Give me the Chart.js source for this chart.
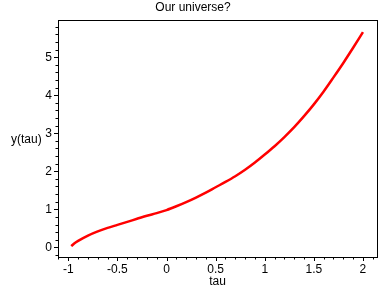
<!DOCTYPE html>
<html>
<head>
<meta charset="utf-8">
<script src="https://cdn.jsdelivr.net/npm/chart.js@4/dist/chart.umd.min.js"></script>
<style>
  html, body { margin: 0; padding: 0; background: #fff; }
  #wrap { width: 388px; height: 288px; }
</style>
</head>
<body>
<div id="wrap"><canvas id="plot" width="388" height="288"></canvas></div>
<script>
// === data ===
const tau = [-0.97, -0.94, -0.9, -0.8, -0.7, -0.6, -0.5, -0.4, -0.3, -0.2, -0.1, 0,
  0.1, 0.2, 0.3, 0.4, 0.5, 0.6, 0.7, 0.8, 0.9, 1.0, 1.1, 1.2, 1.3, 1.4, 1.5,
  1.6, 1.7, 1.8, 1.9, 2.0];
const yTau = [0.03, 0.10, 0.17, 0.31, 0.42, 0.51, 0.59, 0.67, 0.75, 0.83, 0.90, 0.98,
  1.08, 1.19, 1.31, 1.44, 1.58, 1.72, 1.87, 2.04, 2.23, 2.44, 2.66, 2.90, 3.16, 3.45, 3.76,
  4.10, 4.47, 4.85, 5.25, 5.66];
const xTicks = [-1, -0.5, 0, 0.5, 1, 1.5, 2];
const yTicks = [0, 1, 2, 3, 4, 5];
const xMinorStep = 0.1;
const yMinorStep = 0.2;

const FONT = "Liberation Sans, Arial, sans-serif";

// minor/major tick marks plus the top/right frame and the text labels
const framePlugin = {
  id: 'frame',
  afterDraw(chart) {
    const { ctx, chartArea: a, scales: { x, y } } = chart;
    ctx.save();
    ctx.strokeStyle = '#000';
    ctx.lineWidth = 1;
    ctx.beginPath();
    ctx.moveTo(a.left, a.top + 0.5);
    ctx.lineTo(a.right + 1, a.top + 0.5);
    ctx.moveTo(a.right + 0.5, a.top);
    ctx.lineTo(a.right + 0.5, a.bottom + 1);
    // x ticks
    for (let i = -11; i <= 21; i++) {
      const v = i * xMinorStep;
      const px = Math.round(x.getPixelForValue(v)) + 0.5;
      if (px < a.left || px > a.right) continue;
      const len = (i % 5 === 0) ? 4 : 2.5;
      ctx.moveTo(px, a.bottom);
      ctx.lineTo(px, a.bottom + len);
    }
    // y ticks
    for (let i = -1; i <= 29; i++) {
      const v = i * yMinorStep;
      const py = Math.round(y.getPixelForValue(v)) + 0.5;
      if (py < a.top || py > a.bottom) continue;
      const len = (i % 5 === 0) ? 4 : 2.5;
      ctx.moveTo(a.left, py);
      ctx.lineTo(a.left - len, py);
    }
    ctx.stroke();

    ctx.fillStyle = '#000';
    ctx.font = '12px ' + FONT;
    ctx.textBaseline = 'alphabetic';
    ctx.textAlign = 'center';
    ctx.fillText('Our universe?', 193, 11);
    ctx.fillText('tau', (a.left + a.right) / 2, 285);
    ctx.textAlign = 'left';
    ctx.fillText('y(tau)', 11, 143);
    ctx.restore();
  }
};

new Chart(document.getElementById('plot'), {
  type: 'line',
  data: {
    datasets: [{
      data: tau.map((t, i) => ({ x: t, y: yTau[i] })),
      borderColor: '#ff0000',
      borderWidth: 2.5,
      pointRadius: 0,
      cubicInterpolationMode: 'monotone',
      fill: false
    }]
  },
  options: {
    responsive: false,
    animation: false,
    layout: { padding: { top: 20, right: 11, left: 0, bottom: 0 } },
    plugins: {
      legend: { display: false },
      tooltip: { enabled: false },
      title: { display: false }
    },
    scales: {
      x: {
        type: 'linear',
        min: -1.105,
        max: 2.143,
        afterBuildTicks: (s) => { s.ticks = xTicks.map(v => ({ value: v })); },
        afterFit: (s) => { s.height = 31; },
        grid: { display: false, drawTicks: false },
        border: { display: true, color: '#000', width: 1 },
        ticks: {
          color: '#000',
          padding: 5,
          maxRotation: 0,
          autoSkip: false,
          font: { family: FONT, size: 12 },
          callback: (v) => String(v)
        }
      },
      y: {
        min: -0.255,
        max: 5.98,
        afterBuildTicks: (s) => { s.ticks = yTicks.map(v => ({ value: v })); },
        afterFit: (s) => { s.width = 58; },
        grid: { display: false, drawTicks: false },
        border: { display: true, color: '#000', width: 1 },
        ticks: {
          color: '#000',
          padding: 6,
          autoSkip: false,
          font: { family: FONT, size: 12 },
          callback: (v) => String(v)
        }
      }
    }
  },
  plugins: [framePlugin]
});
</script>
</body>
</html>
